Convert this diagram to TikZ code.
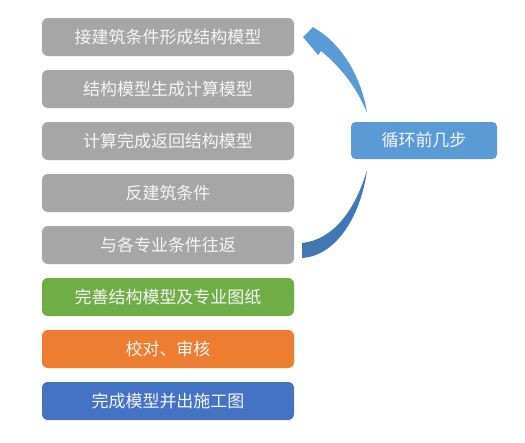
\documentclass[tikz,border=0pt]{standalone}
\usepackage{fontspec}
\setmainfont{Noto Sans CJK SC}
\definecolor{boxgray}{HTML}{A6A6A6}
\definecolor{boxgreen}{HTML}{70AD47}
\definecolor{boxorange}{HTML}{ED7D31}
\definecolor{boxblue}{HTML}{4472C4}
\definecolor{loopblue}{HTML}{5B9BD5}
\definecolor{arrowtop}{HTML}{5B9BD5}
\definecolor{arrowbot}{HTML}{4178B4}
\begin{document}
\begin{tikzpicture}[x=0.03cm,y=-0.03cm,
  stepbox/.style={rectangle,rounded corners=5,minimum width=252*0.03cm,minimum height=38*0.03cm,
    text=white!92!gray,font=\fontsize{14.5pt}{16pt}\selectfont,inner sep=0pt},
  loopbox/.style={rectangle,rounded corners=4,minimum width=146*0.03cm,minimum height=37*0.03cm,
    fill=loopblue,text=white!92!gray,font=\fontsize{14.5pt}{16pt}\selectfont,inner sep=0pt}]
\useasboundingbox[fill=white] (0,0) rectangle (525,442);
\node[stepbox,fill=boxgray] (s1) at (168,37) {接建筑条件形成结构模型};
\node[stepbox,fill=boxgray] (s2) at (168,89) {结构模型生成计算模型};
\node[stepbox,fill=boxgray] (s3) at (168,141) {计算完成返回结构模型};
\node[stepbox,fill=boxgray] (s4) at (168,193) {反建筑条件};
\node[stepbox,fill=boxgray] (s5) at (168,245) {与各专业条件往返};
\node[stepbox,fill=boxgreen] (s6) at (168,297) {完善结构模型及专业图纸};
\node[stepbox,fill=boxorange] (s7) at (168,349) {校对、审核};
\node[stepbox,fill=boxblue] (s8) at (168,401) {完成模型并出施工图};
\node[loopbox] (loop) at (424,140.5) {循环前几步};
% upper curved arrow (to step 1)
\fill[arrowtop] (303,37) -- (313,27) -- (322,33)
  .. controls (348,52) and (363,85) .. (367,113)
  .. controls (358,90) and (342,68) .. (321,51)
  -- (318,55) -- cycle;
% lower curved arrow (from step 5)
\fill[arrowbot] (302,243) -- (302,258)
  .. controls (336,256) and (361,216) .. (367,170)
  .. controls (354,214) and (331,240) .. (302,243) -- cycle;
\end{tikzpicture}
\end{document}
